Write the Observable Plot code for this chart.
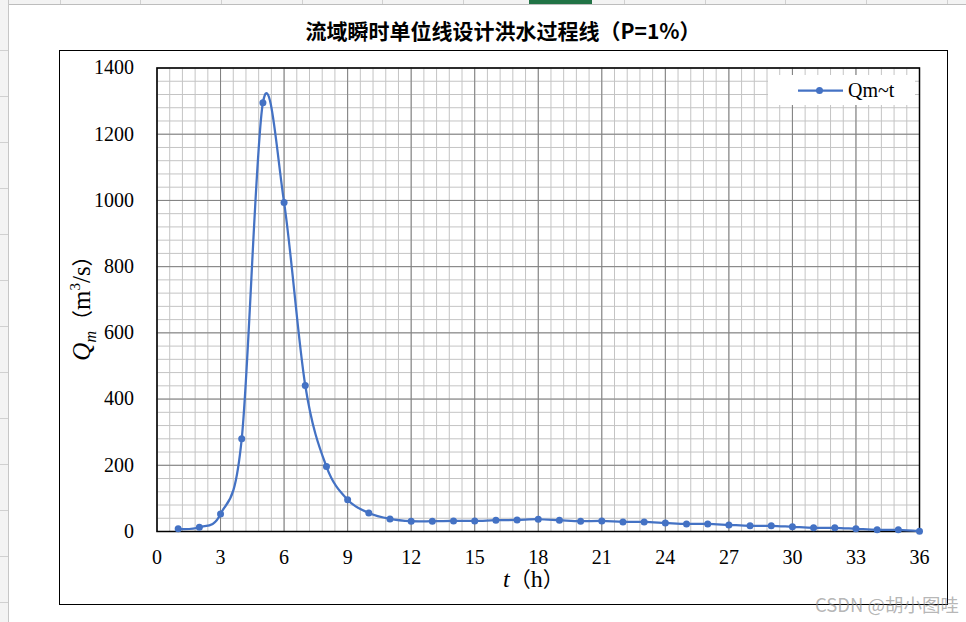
<!DOCTYPE html>
<html><head><meta charset="utf-8">
<script src="https://cdn.jsdelivr.net/npm/d3@7"></script>
<script src="https://cdn.jsdelivr.net/npm/@observablehq/plot@0.6"></script>
<style>
html,body{margin:0;padding:0;background:#fff;}
#page{position:relative;width:966px;height:622px;overflow:hidden;background:#fff;}
.abs{position:absolute;}
#topstrip{left:0;top:0;width:966px;height:4px;background:#f3f3f3;border-bottom:1px solid #bdbdbd;}
#leftstrip{left:0;top:0;width:8px;height:622px;background:#f3f3f3;border-right:1px solid #c6c6c6;}
#frame{left:59px;top:50px;width:887px;height:553px;border:1px solid #000;}
#title{left:0;top:16px;width:1006px;text-align:center;font-family:"Noto Sans CJK SC",sans-serif;font-weight:bold;font-size:21px;color:#000;line-height:28px;}
#legend{left:768px;top:75px;width:147px;height:30px;background:#fff;}
#wm{left:815px;top:591px;font-family:"Noto Sans CJK SC","DejaVu Sans",sans-serif;font-size:18.5px;color:rgba(140,140,140,0.65);white-space:nowrap;}
#plotwrap{left:0;top:0;}
</style></head>
<body><div id="page">
<div id="topstrip" class="abs"></div>
<div id="leftstrip" class="abs"></div>
<div id="frame" class="abs"></div>
<div id="title" class="abs">流域瞬时单位线设计洪水过程线（P=1%）</div>
<div id="plotwrap" class="abs"></div>
<div id="legend" class="abs"></div>
<svg id="labels" class="abs" style="left:0;top:0" width="966" height="622"></svg>
<div id="wm" class="abs">CSDN @胡小图哇</div>
</div>
<script>
// ---- data ----
const hours = [1,2,3,4,5,6,7,8,9,10,11,12,13,14,15,16,17,18,19,20,21,22,23,24,25,26,27,28,29,30,31,32,33,34,35,36];
const flows = [8,13,53,280,1295,994,441,196,96,56,38,31,31,32,32,34,35,37,34,31,32,29,29,26,23,23,20,17,17,14,11,11,8,5,5,1];
const xTicks = [0,3,6,9,12,15,18,21,24,27,30,33,36];
const yTicks = [0,200,400,600,800,1000,1200,1400];
const seriesName = "Qm~t";

(function () {
const data = hours.map((t, i) => ({t, q: flows[i]}));
const xMinor = d3.range(0, 36.001, 0.6);
const yMinor = d3.range(0, 1401, 40);
const blue = "#4472C4";

// Excel chrome (light)
const page = document.getElementById("page");
const chromeLayer = document.createElement("div");
chromeLayer.className = "abs";
chromeLayer.style.cssText = "left:0;top:0;width:966px;height:622px;";
page.insertBefore(chromeLayer, page.children[2]);
[60,140,221,302,382,463,544,624,705,785,866,947].forEach(x => {
  const d = document.createElement("div");
  d.className = "abs";
  d.style.cssText = `left:${x}px;top:0;width:1px;height:4px;background:#d0d0d0;`;
  chromeLayer.appendChild(d);
});
const gbar = document.createElement("div");
gbar.className = "abs";
gbar.style.cssText = "left:529px;top:0;width:63px;height:4px;background:#217346;";
chromeLayer.appendChild(gbar);
for (let y = 50; y < 622; y += 46) {
  const d = document.createElement("div");
  d.className = "abs";
  d.style.cssText = `left:0;top:${y}px;width:8px;height:1px;background:#d0d0d0;`;
  chromeLayer.appendChild(d);
}

const chart = Plot.plot({
  width: 966, height: 622,
  marginLeft: 156.5, marginRight: 47, marginTop: 67.5, marginBottom: 91,
  x: {domain: [0, 36]},
  y: {domain: [0, 1400]},
  style: {background: "transparent", fontFamily: "'Liberation Serif','Times New Roman',serif", fontSize: "20px", color: "#000"},
  marks: [
    Plot.ruleX(xMinor, {stroke: "#c4c4c4", strokeWidth: 1}),
    Plot.ruleY(yMinor, {stroke: "#c4c4c4", strokeWidth: 1}),
    Plot.ruleX(xTicks, {stroke: "#808080", strokeWidth: 1}),
    Plot.ruleY(yTicks, {stroke: "#808080", strokeWidth: 1}),
    Plot.frame({stroke: "#000", strokeWidth: 1.5}),
    Plot.line(data, {x: "t", y: "q", curve: "cardinal", stroke: blue, strokeWidth: 2.25}),
    Plot.dot(data, {x: "t", y: "q", r: 3.5, fill: blue, stroke: "none"}),
    Plot.axisX({ticks: xTicks, tickSize: 0, tickPadding: 18, label: null, fontSize: 20, tickFormat: d => String(d)}),
    Plot.axisY({ticks: yTicks, tickSize: 0, tickPadding: 23, label: null, fontSize: 20, tickFormat: d => String(d)})
  ]
});
document.getElementById("plotwrap").appendChild(chart);

// legend
const leg = d3.select("#legend").append("svg").attr("width", 147).attr("height", 30);
leg.append("line").attr("x1", 30).attr("x2", 75).attr("y1", 15.5).attr("y2", 15.5)
  .attr("stroke", blue).attr("stroke-width", 2.25);
leg.append("circle").attr("cx", 51.5).attr("cy", 15.5).attr("r", 3.5).attr("fill", blue);
leg.append("text").attr("x", 80).attr("y", 22).text(seriesName)
  .attr("font-family", "'Liberation Serif','Times New Roman',serif").attr("font-size", 20).attr("fill", "#000");

// axis titles
const lab = d3.select("#labels");
const yt = lab.append("text").attr("transform", "translate(90,303) rotate(-90)")
  .attr("text-anchor", "middle").attr("font-family", "'Liberation Serif','Times New Roman',serif")
  .attr("font-size", 25).attr("fill", "#000");
yt.append("tspan").attr("font-style", "italic").text("Q");
yt.append("tspan").attr("font-style", "italic").attr("font-size", 16).attr("dy", 6).text("m");
yt.append("tspan").attr("dy", -6).attr("font-family", "'Noto Sans CJK SC',sans-serif").attr("font-size", 21).text("（");
yt.append("tspan").text("m");
yt.append("tspan").attr("font-size", 15).attr("dy", -10).text("3");
yt.append("tspan").attr("dy", 10).text("/s");
yt.append("tspan").attr("font-family", "'Noto Sans CJK SC',sans-serif").attr("font-size", 21).text("）");

const xt = lab.append("text").attr("x", 503).attr("y", 587)
  .attr("font-family", "'Liberation Serif','Times New Roman',serif")
  .attr("font-size", 24).attr("fill", "#000");
xt.append("tspan").attr("font-style", "italic").text("t");
xt.append("tspan").attr("font-family", "'Noto Sans CJK SC',sans-serif").attr("font-size", 21).text("（");
xt.append("tspan").text("h");
xt.append("tspan").attr("font-family", "'Noto Sans CJK SC',sans-serif").attr("font-size", 21).text("）");
})();
</script>
</body></html>
